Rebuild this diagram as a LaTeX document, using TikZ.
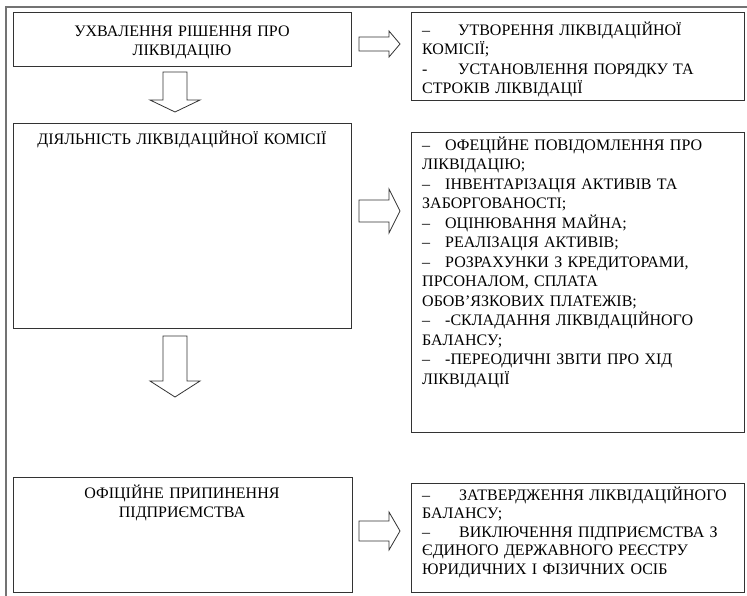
\documentclass[tikz,border=0pt]{standalone}
\usepackage{fontspec}
\setmainfont{Liberation Serif}
\usetikzlibrary{positioning}

\tikzset{
  box/.style={draw=black!80, line width=0.9pt, inner sep=0pt},
  blockarrow/.style={draw=black!80, line width=0.8pt, fill=white, line join=miter},
  txt/.style={inner sep=0pt, font=\fontsize{16}{19.5}\selectfont},
}
\newcommand\itemdash[1]{\makebox[#1][l]{–}}

\begin{document}
\begin{tikzpicture}
  [x=1pt,y=-1pt]
  \useasboundingbox (0,0) rectangle (747,595);
  % outer frame
  \draw[black!55, line width=1.6pt] (6,600) -- (6,7) -- (750,7);

  % left column
  \node[box, minimum width=338pt, minimum height=54pt] (decide) at (182,39) {};
  \node[box, minimum width=338pt, minimum height=205pt] (work) at (182,226) {};
  \node[box, minimum width=339pt, minimum height=115pt] (close) at (182.5,534.5) {};

  % right column
  \node[box, minimum width=333pt, minimum height=88pt] (setup) at (577.5,56) {};
  \node[box, minimum width=333pt, minimum height=300pt] (tasks) at (577.5,282) {};
  \node[box, minimum width=333pt, minimum height=109pt] (final) at (577.5,537.5) {};

  % texts
  \node[txt, anchor=base, align=center, text width=330pt] (decide-t) at (182,36)
    {УХВАЛЕННЯ РІШЕННЯ ПРО\\ЛІКВІДАЦІЮ};
  \node[txt, anchor=base, align=center, text width=330pt] (work-t) at (182,144)
    {ДІЯЛЬНІСТЬ ЛІКВІДАЦІЙНОЇ КОМІСІЇ};
  \node[txt, anchor=base, align=center, text width=330pt] (close-t) at (182,498)
    {ОФІЦІЙНЕ ПРИПИНЕННЯ\\ПІДПРИЄМСТВА};

  \node[txt, anchor=base west, align=left, text width=318pt] (setup-t) at (422,35)
    {\itemdash{36pt}УТВОРЕННЯ ЛІКВІДАЦІЙНОЇ\\
     КОМІСІЇ;\\
     \makebox[36pt][l]{-}УСТАНОВЛЕННЯ ПОРЯДКУ ТА\\
     СТРОКІВ ЛІКВІДАЦІЇ};
  \node[txt, anchor=base west, align=left, text width=318pt] (tasks-t) at (422,150)
    {\itemdash{23pt}ОФЕЦІЙНЕ ПОВІДОМЛЕННЯ ПРО\\
     ЛІКВІДАЦІЮ;\\
     \itemdash{23pt}ІНВЕНТАРІЗАЦІЯ АКТИВІВ ТА\\
     ЗАБОРГОВАНОСТІ;\\
     \itemdash{23pt}ОЦІНЮВАННЯ МАЙНА;\\
     \itemdash{23pt}РЕАЛІЗАЦІЯ АКТИВІВ;\\
     \itemdash{23pt}РОЗРАХУНКИ З КРЕДИТОРАМИ,\\
     ПРСОНАЛОМ, СПЛАТА\\
     ОБОВ’ЯЗКОВИХ ПЛАТЕЖІВ;\\
     \itemdash{23pt}-СКЛАДАННЯ ЛІКВІДАЦІЙНОГО\\
     БАЛАНСУ;\\
     \itemdash{23pt}-ПЕРЕОДИЧНІ ЗВІТИ ПРО ХІД\\
     ЛІКВІДАЦІЇ};
  \node[txt, anchor=base west, align=left, text width=318pt,
        font=\fontsize{16}{18.5}\selectfont] (final-t) at (422,500)
    {\itemdash{37pt}ЗАТВЕРДЖЕННЯ ЛІКВІДАЦІЙНОГО\\
     БАЛАНСУ;\\
     \itemdash{37pt}ВИКЛЮЧЕННЯ ПІДПРИЄМСТВА З\\
     ЄДИНОГО ДЕРЖАВНОГО РЕЄСТРУ\\
     ЮРИДИЧНИХ І ФІЗИЧНИХ ОСІБ};

  % down arrows
  \draw[blockarrow] (175,72) ++(-12,0) -- ++(24,0) -- ++(0,28) -- ++(13,0)
    -- ++(-25,12) -- ++(-25,-12) -- ++(13,0) -- cycle;
  \draw[blockarrow] (175,336) ++(-12,0) -- ++(24,0) -- ++(0,45) -- ++(13,0)
    -- ++(-25,16) -- ++(-25,-16) -- ++(13,0) -- cycle;

  % right arrows
  \draw[blockarrow] (359,44) ++(0,-7) -- ++(30,0) -- ++(0,-6) -- ++(11,13)
    -- ++(-11,13) -- ++(0,-6) -- ++(-30,0) -- cycle;
  \draw[blockarrow] (359,211) ++(0,-11) -- ++(30,0) -- ++(0,-11) -- ++(11,22)
    -- ++(-11,22) -- ++(0,-11) -- ++(-30,0) -- cycle;
  \draw[blockarrow] (359,531) ++(0,-10) -- ++(30,0) -- ++(0,-9) -- ++(11,19)
    -- ++(-11,19) -- ++(0,-9) -- ++(-30,0) -- cycle;
\end{tikzpicture}
\end{document}
